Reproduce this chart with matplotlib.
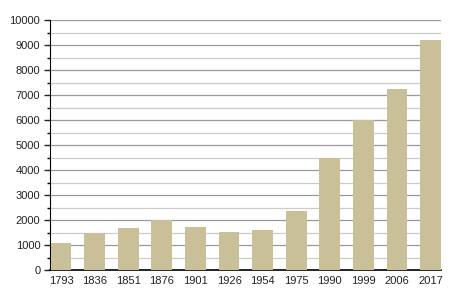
import matplotlib
matplotlib.use("Agg")
import matplotlib.pyplot as plt
from matplotlib.ticker import MultipleLocator

years = ["1793", "1836", "1851", "1876", "1901", "1926", "1954", "1975",
         "1990", "1999", "2006", "2017"]
population = [1070, 1470, 1680, 1990, 1710, 1520, 1600, 2360,
              4480, 6000, 7240, 9200]

plt.rcParams['font.family'] = ['Liberation Sans', 'DejaVu Sans']

fig = plt.figure(figsize=(4.5, 3), dpi=100)
ax = fig.add_axes([50 / 450, 30 / 300, 391 / 450, 250 / 300])

x = range(len(years))
ax.bar(x, population, width=0.62, color="#C9BF98", zorder=3)

ax.set_ylim(0, 10000)
ax.set_xlim(-0.33, 11.31)
ax.yaxis.set_major_locator(MultipleLocator(1000))
ax.yaxis.set_minor_locator(MultipleLocator(500))
ax.grid(axis="y", which="major", color="#999999", linewidth=0.9, zorder=0)
ax.grid(axis="y", which="minor", color="#cccccc", linewidth=0.9, zorder=0)

ax.set_xticks(list(x))
ax.set_xticklabels(years)
ax.tick_params(axis="x", length=0, pad=4, labelsize=8, colors="#222222")
ax.tick_params(axis="y", which="major", length=4, width=1, pad=3, labelsize=8,
               colors="#222222")
ax.tick_params(axis="y", which="minor", length=2, width=1)

for side in ["top", "right"]:
    ax.spines[side].set_visible(False)
ax.spines["left"].set_color("black")
ax.spines["bottom"].set_color("black")
ax.spines["bottom"].set_linewidth(1.2)

fig.savefig("out.png", dpi=100)
